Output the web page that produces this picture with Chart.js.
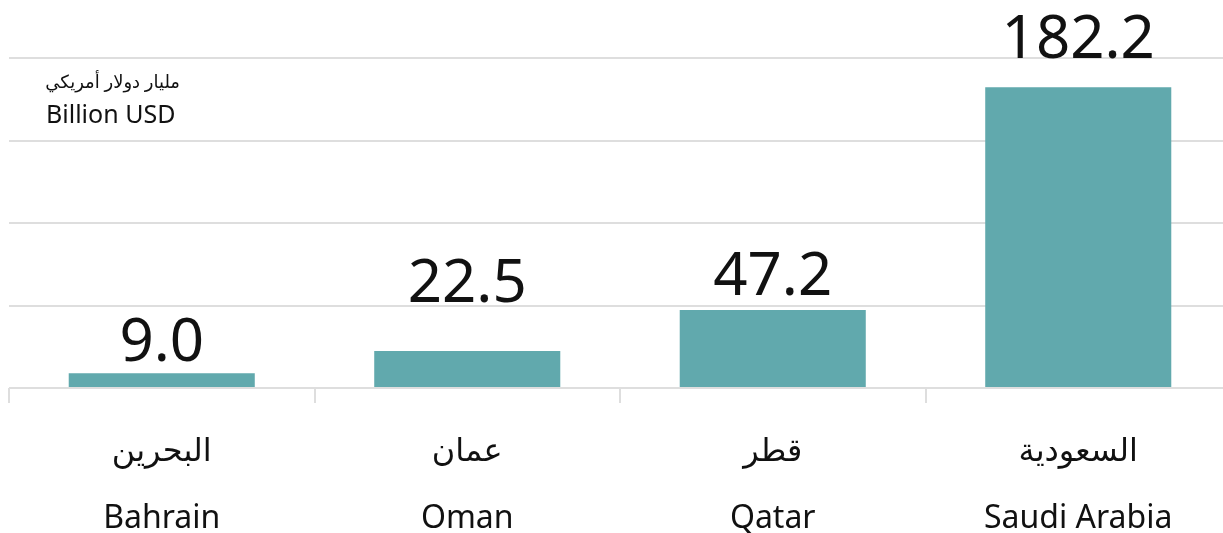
<!DOCTYPE html>
<html>
<head>
<meta charset="utf-8">
<script src="https://cdn.jsdelivr.net/npm/chart.js@4"></script>
<style>
  html, body { margin: 0; padding: 0; background: #fff; }
  #wrap { width: 1223px; height: 533px; overflow: hidden; }
</style>
</head>
<body>
<!-- the plot runs a few pixels past the right edge in the original, so the canvas is a bit wider than the frame -->
<div id="wrap"><canvas id="gccChart" width="1231" height="533"></canvas></div>
<script>
// Data
const labelsAr = ['البحرين', 'عمان', 'قطر', 'السعودية'];
const labelsEn = ['Bahrain', 'Oman', 'Qatar', 'Saudi Arabia'];
const values   = [9.0, 22.5, 47.2, 182.2];
const yTicks   = [0, 50, 100, 150, 200];

const unitAr = 'مليار دولار أمريكي';
const unitEn = 'Billion USD';

const FONT = "'Noto Sans', 'DejaVu Sans', sans-serif";
const BAR_COLOR = '#61a9ad';
const GRID_COLOR = '#dedede';

// gap between bar top and its value label (labels sit a bit unevenly in the original)
const labelGaps = [12, 49, 15, 29];

// value labels above bars
const valueLabels = {
  id: 'valueLabels',
  afterDatasetsDraw(chart) {
    const ctx = chart.ctx;
    const meta = chart.getDatasetMeta(0);
    ctx.save();
    ctx.font = `60px ${FONT}`;
    ctx.fillStyle = '#111';
    ctx.textAlign = 'center';
    ctx.textBaseline = 'alphabetic';
    meta.data.forEach((bar, i) => {
      ctx.fillText(values[i].toFixed(1), bar.x, bar.y - labelGaps[i]);
    });
    ctx.restore();
  }
};

// unit note in the top-left corner
const unitNote = {
  id: 'unitNote',
  afterDraw(chart) {
    const ctx = chart.ctx;
    ctx.save();
    ctx.fillStyle = '#111';
    ctx.textBaseline = 'alphabetic';
    ctx.font = `18px ${FONT}`;
    ctx.textAlign = 'right';
    ctx.fillText(unitAr, 180, 88);
    ctx.font = `25px ${FONT}`;
    ctx.textAlign = 'left';
    ctx.fillText(unitEn, 46, 123);
    ctx.restore();
  }
};

new Chart(document.getElementById('gccChart'), {
  type: 'bar',
  data: {
    labels: labelsAr.map((ar, i) => [ar, labelsEn[i]]),
    datasets: [{
      data: values,
      backgroundColor: BAR_COLOR,
      borderWidth: 0,
      categoryPercentage: 1,
      barPercentage: 0.609
    }]
  },
  options: {
    responsive: false,
    animation: false,
    layout: { padding: { left: 9, right: 0, top: 58, bottom: 0 } },
    plugins: {
      legend: { display: false },
      tooltip: { enabled: false }
    },
    scales: {
      x: {
        grid: {
          offset: true,
          drawOnChartArea: false,
          color: GRID_COLOR,
          lineWidth: 2,
          tickLength: 15
        },
        border: { display: false },
        ticks: {
          color: '#111',
          font: { family: FONT, size: 32, lineHeight: 2.1 },
          padding: 15,
          maxRotation: 0
        },
        afterFit(scale) { scale.height = 533 - 58 - 330; }
      },
      y: {
        min: 0,
        max: 200,
        afterBuildTicks(scale) { scale.ticks = yTicks.map(v => ({ value: v })); },
        grid: { color: GRID_COLOR, lineWidth: 2, drawTicks: false },
        border: { display: false },
        ticks: { display: false },
        afterFit(scale) { scale.width = 0; }
      }
    }
  },
  plugins: [valueLabels, unitNote]
});
</script>
</body>
</html>
